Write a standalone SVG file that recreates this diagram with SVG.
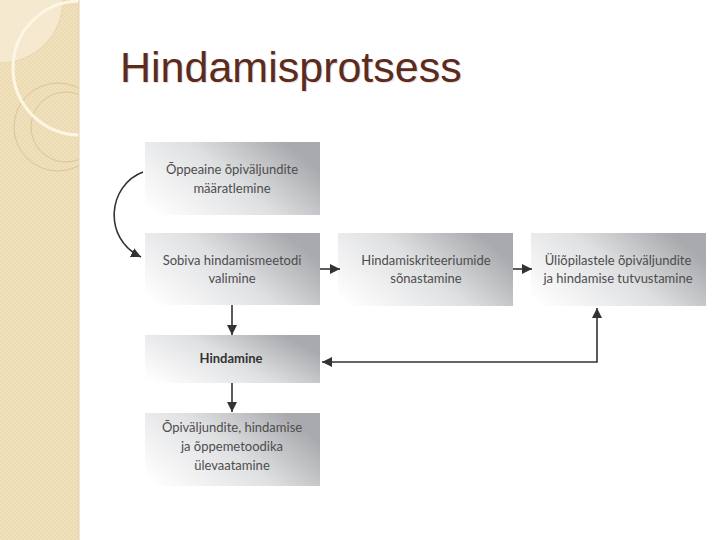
<svg xmlns="http://www.w3.org/2000/svg" width="720" height="540" viewBox="0 0 720 540">
<defs>
<linearGradient id="boxg" x1="0" y1="0.9" x2="1" y2="0.4">
<stop offset="0" stop-color="#ffffff"/>
<stop offset="0.55" stop-color="#dfe0e2"/>
<stop offset="1" stop-color="#a8aaad"/>
</linearGradient>
<marker id="ah" viewBox="0 0 10 10" refX="10" refY="5" markerWidth="10" markerHeight="10" markerUnits="userSpaceOnUse" orient="auto-start-reverse">
<path d="M0,0 L10,5 L0,10 z" fill="#333"/>
</marker>
<pattern id="chk" width="4" height="4" patternUnits="userSpaceOnUse">
<rect width="4" height="4" fill="#f0e1bc"/>
<rect width="2" height="2" fill="#ecdbb2"/>
<rect x="2" y="2" width="2" height="2" fill="#ecdbb2"/>
</pattern>
<clipPath id="sc"><rect x="0" y="0" width="79" height="540"/></clipPath>
</defs>
<style>
.box{fill:url(#boxg);}
.t{font-family:Lato,"Open Sans","Liberation Sans",sans-serif;font-size:13px;fill:#4d4d4d;text-anchor:middle;}
.b{font-weight:bold;fill:#333;}
.c{fill:none;stroke:#333;stroke-width:1.6;}
</style>
<rect width="720" height="540" fill="#ffffff"/>
<g id="stripe">
<g clip-path="url(#sc)">
<rect x="0" y="0" width="79" height="540" fill="url(#chk)"/>
<path d="M0,0 L63,0 A63,63 0 0 1 0,63 Z" fill="#f6ecd4" opacity="0.8"/>
<path d="M63,0 A63,63 0 0 1 0,63" fill="none" stroke="#e4d2a8" stroke-width="0.8"/>
<circle cx="58" cy="127" r="44" fill="none" stroke="#d6c191" stroke-width="0.9"/>
<circle cx="66" cy="127" r="35" fill="none" stroke="#d6c191" stroke-width="0.9"/>
<circle cx="80" cy="68" r="67" fill="none" stroke="#fcf6e4" stroke-width="3"/>
</g>
<line x1="79" y1="0" x2="79" y2="540" stroke="#e2d3ae" stroke-width="1"/>
</g>
<text x="120" y="82" font-family="'Liberation Sans',Arial,sans-serif" font-size="43" fill="#eadcd6" dx="1" dy="1">Hindamisprotsess</text>
<text x="120" y="82" font-family="'Liberation Sans',Arial,sans-serif" font-size="43" fill="#5b2b1e">Hindamisprotsess</text>
<g id="n1"><rect class="box" x="145" y="142" width="175" height="73"/>
<text class="t" x="232" y="174">Õppeaine õpiväljundite</text><text class="t" x="232" y="193">määratlemine</text></g>
<g id="n2"><rect class="box" x="145" y="233" width="175" height="72"/>
<text class="t" x="232" y="265">Sobiva hindamismeetodi</text><text class="t" x="232" y="283">valimine</text></g>
<g id="n3"><rect class="box" x="338" y="233" width="175" height="73"/>
<text class="t" x="426" y="265">Hindamiskriteeriumide</text><text class="t" x="426" y="283">sõnastamine</text></g>
<g id="n4"><rect class="box" x="531" y="233" width="175" height="73"/>
<text class="t" x="618" y="265">Üliõpilastele õpiväljundite</text><text class="t" x="618" y="283">ja hindamise tutvustamine</text></g>
<g id="n5"><rect class="box" x="145" y="335" width="175" height="48"/>
<text class="t b" x="231" y="363">Hindamine</text></g>
<g id="n6"><rect class="box" x="145" y="413" width="175" height="73"/>
<text class="t" x="232" y="432">Õpiväljundite, hindamise</text><text class="t" x="232" y="451">ja õppemetoodika</text><text class="t" x="232" y="470">ülevaatamine</text></g>
<g id="connectors">
<path class="c" d="M143,172 C108,185 102,238 141,257" marker-end="url(#ah)"/>
<path class="c" d="M320,269 L340,269" marker-end="url(#ah)"/>
<path class="c" d="M513,269 L532,269" marker-end="url(#ah)"/>
<path class="c" d="M232,305 L232,335" marker-end="url(#ah)"/>
<path class="c" d="M232,383 L232,412" marker-end="url(#ah)"/>
<path class="c" d="M322,362 L597,362 L597,308" marker-start="url(#ah)" marker-end="url(#ah)"/>
</g>
</svg>
